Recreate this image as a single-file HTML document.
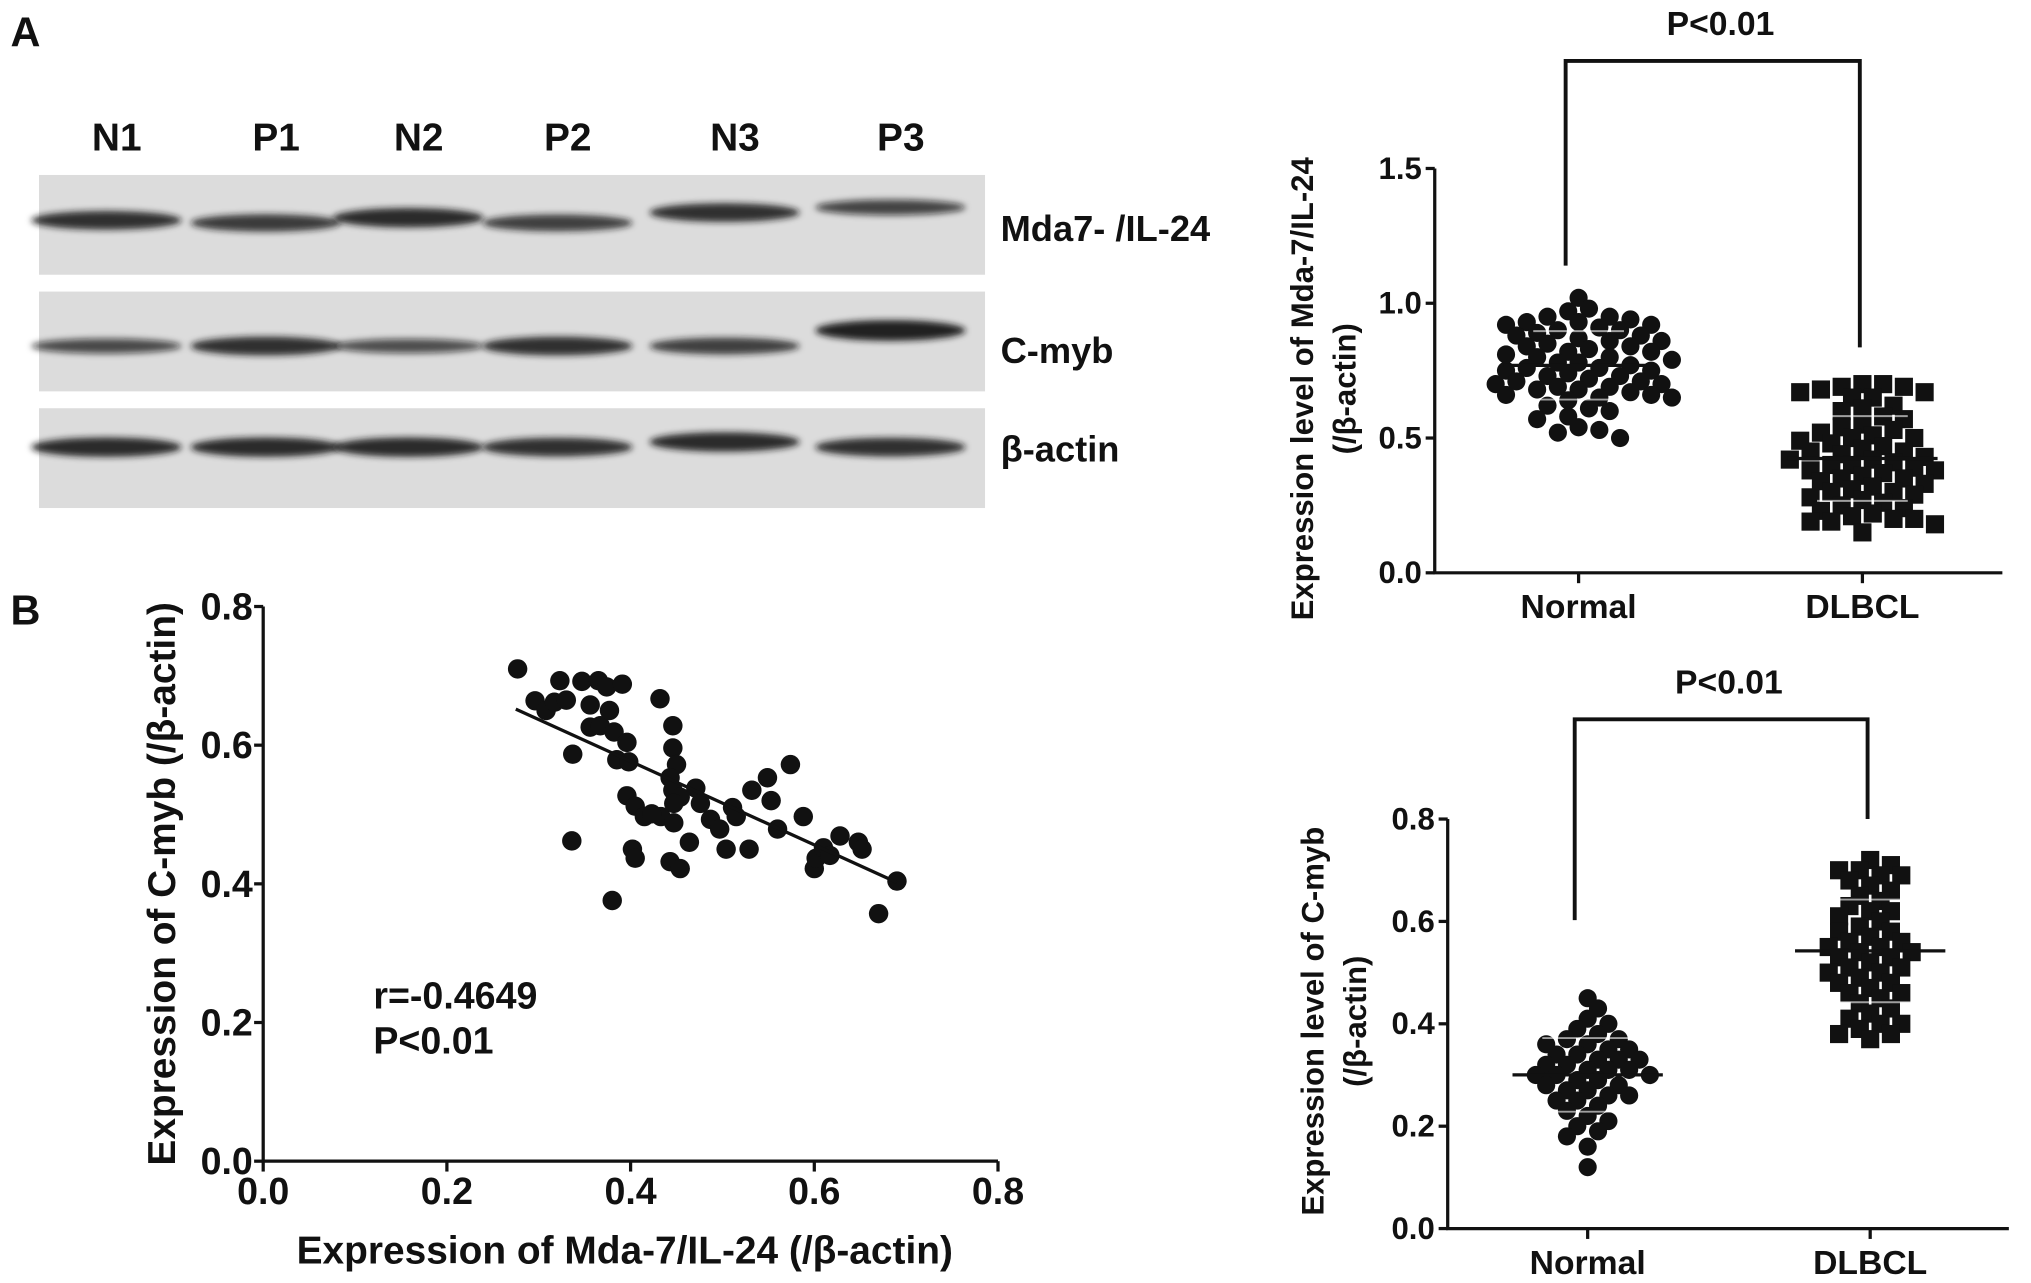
<!DOCTYPE html>
<html><head><meta charset="utf-8"><style>
html,body{margin:0;padding:0;background:#fff}
svg{display:block}
text{font-family:"Liberation Sans",sans-serif;font-weight:bold;fill:#111}
</style></head><body>
<svg id="fig" width="2031" height="1283" viewBox="0 0 1567 990" xmlns="http://www.w3.org/2000/svg">
<defs>
<filter id="blur" x="-20%" y="-100%" width="140%" height="300%"><feGaussianBlur stdDeviation="2.5"/></filter>
</defs>
<text x="8" y="36" font-size="32">A</text>
<text x="8" y="482" font-size="32">B</text>
<g id="blot"></g>
<g id="scatter"></g>
<g id="dotTop"></g>
<g id="dotBot"></g>
</svg>
<script>
// ---------- data ----------
const laneLabels = ["N1","P1","N2","P2","N3","P3"];
const laneX = [90,213,323,438,567,695];
const mdaBand = [0.85,0.75,0.9,0.7,0.85,0.6];
const mybBand = [0.55,0.85,0.5,0.85,0.7,1.0];
const actBand = [0.9,0.9,0.9,0.85,0.9,0.85];

const scatterX = [0.277,0.296,0.308,0.317,0.323,0.330,0.347,0.356,0.365,0.374,0.391,0.356,0.367,0.377,0.382,0.396,0.337,0.385,0.336,0.396,0.398,0.405,0.432,0.446,0.446,0.450,0.443,0.446,0.433,0.454,0.447,0.415,0.423,0.447,0.471,0.464,0.487,0.511,0.504,0.515,0.529,0.532,0.549,0.553,0.574,0.588,0.600,0.602,0.610,0.628,0.648,0.652,0.617,0.670,0.690,0.402,0.405,0.443,0.380,0.476,0.497,0.560,0.454];
const scatterY = [0.710,0.664,0.650,0.662,0.693,0.665,0.692,0.658,0.693,0.684,0.688,0.626,0.628,0.650,0.619,0.604,0.587,0.579,0.462,0.527,0.576,0.512,0.667,0.628,0.596,0.572,0.553,0.535,0.497,0.525,0.516,0.497,0.501,0.488,0.538,0.460,0.493,0.510,0.450,0.497,0.450,0.535,0.553,0.520,0.572,0.497,0.422,0.437,0.452,0.469,0.460,0.450,0.441,0.357,0.404,0.450,0.437,0.432,0.376,0.516,0.479,0.479,0.422];
const fitLine = [[0.275,0.652],[0.69,0.402]];
const scatterTicks = ["0.0","0.2","0.4","0.6","0.8"];

const groups = ["Normal","DLBCL"];
const mdaNormal = [1.02,0.98,0.97,0.95,0.95,0.94,0.93,0.93,0.92,0.92,0.91,0.90,0.90,0.89,0.88,0.88,0.87,0.86,0.86,0.85,0.84,0.84,0.83,0.82,0.82,0.81,0.80,0.80,0.79,0.78,0.78,0.77,0.76,0.76,0.75,0.75,0.74,0.73,0.73,0.72,0.71,0.71,0.70,0.70,0.69,0.69,0.68,0.68,0.67,0.66,0.66,0.65,0.65,0.64,0.62,0.61,0.60,0.58,0.57,0.54,0.53,0.52,0.50];
const mdaDLBCL = [0.70,0.70,0.69,0.69,0.68,0.67,0.67,0.65,0.65,0.62,0.61,0.60,0.58,0.57,0.55,0.54,0.53,0.52,0.51,0.50,0.50,0.49,0.48,0.47,0.46,0.45,0.45,0.44,0.43,0.42,0.42,0.41,0.40,0.40,0.39,0.38,0.38,0.37,0.36,0.35,0.35,0.34,0.33,0.32,0.31,0.30,0.30,0.29,0.28,0.27,0.26,0.25,0.24,0.23,0.22,0.21,0.20,0.20,0.19,0.19,0.18,0.15];
const mybNormal = [0.45,0.43,0.41,0.40,0.39,0.38,0.37,0.37,0.36,0.36,0.35,0.35,0.34,0.34,0.33,0.33,0.33,0.32,0.32,0.31,0.31,0.31,0.30,0.30,0.30,0.29,0.29,0.28,0.28,0.27,0.27,0.26,0.26,0.25,0.25,0.24,0.23,0.22,0.21,0.20,0.19,0.18,0.16,0.12];
const mybDLBCL = [0.72,0.71,0.70,0.70,0.69,0.69,0.68,0.67,0.66,0.65,0.64,0.63,0.62,0.62,0.61,0.60,0.59,0.58,0.58,0.57,0.56,0.56,0.55,0.55,0.54,0.54,0.53,0.53,0.52,0.51,0.51,0.50,0.50,0.49,0.48,0.48,0.47,0.46,0.46,0.45,0.44,0.43,0.42,0.41,0.40,0.40,0.39,0.38,0.38,0.37];
const mdaTicks = ["0.0","0.5","1.0","1.5"];
const mybTicks = ["0.0","0.2","0.4","0.6","0.8"];

// ---------- helpers ----------
const NS="http://www.w3.org/2000/svg";
function mk(parent,tag,attrs,txt){const e=document.createElementNS(NS,tag);for(const k in attrs)e.setAttribute(k,attrs[k]);if(txt!==undefined)e.textContent=txt;parent.appendChild(e);return e;}

// ---------- blot ----------
const blot=document.getElementById('blot');
laneLabels.forEach((l,i)=>{
  const t=mk(blot,'text',{x:laneX[i],y:116,'font-size':30,'text-anchor':'middle'},l);
  
  
});
const strips=[{y:135,h:77,bc:170,bands:mdaBand,label:"Mda7- /IL-24",ly:186,dy:[0,2,-2,2,-6,-10]},
              {y:225,h:77,bc:267,bands:mybBand,label:"C-myb",ly:280,dy:[0,0,0,0,0,-12]},
              {y:315,h:77,bc:345,bands:actBand,label:"β-actin",ly:356,dy:[0,0,0,0,-4,0]}];
strips.forEach((s,si)=>{
  const r=mk(blot,'rect',{x:30,y:s.y,width:730,height:s.h,fill:'#dcdcdc'});
  
  
  s.bands.forEach((b,i)=>{
    const e=mk(blot,'ellipse',{cx:laneX[i]-8,cy:s.bc+s.dy[i],rx:58,ry:3+b*5,fill:'#151515','fill-opacity':0.45+b*0.5,filter:'url(#blur)'});
    
    
  });
  const t=mk(blot,'text',{x:772,y:s.ly,'font-size':28},s.label);
  
  
});

// ---------- scatter ----------
const sc=document.getElementById('scatter');
const sx0=203,sx1=770,sy0=896,sy1=468;
const sX=v=>sx0+(v/0.8)*(sx1-sx0), sY=v=>sy0-(v/0.8)*(sy0-sy1);
mk(sc,'path',{d:`M${sx0} ${sy1}V${sy0}H${sx1}`,stroke:'#111','stroke-width':2.5,fill:'none'});
scatterTicks.forEach(t=>{
  const v=parseFloat(t);
  mk(sc,'line',{x1:sx0-7,x2:sx0,y1:sY(v),y2:sY(v),stroke:'#111','stroke-width':2.5});
  mk(sc,'line',{x1:sX(v),x2:sX(v),y1:sy0,y2:sy0+8,stroke:'#111','stroke-width':2.5});
  const a=mk(sc,'text',{x:sx0-8,y:sY(v)+10,'font-size':29,'text-anchor':'end'},t);
  
  
  const b=mk(sc,'text',{x:sX(v),y:sy0+33,'font-size':29,'text-anchor':'middle'},t);
  
  
});
scatterX.forEach((x,i)=>{
  const c=mk(sc,'circle',{cx:sX(x),cy:sY(scatterY[i]),r:7.5,fill:'#111'});
  
  
});
const fl=mk(sc,'line',{x1:sX(fitLine[0][0]),y1:sY(fitLine[0][1]),x2:sX(fitLine[1][0]),y2:sY(fitLine[1][1]),stroke:'#111','stroke-width':2.5});


let t1=mk(sc,'text',{x:482,y:975,'font-size':30,'text-anchor':'middle'},"Expression of Mda-7/IL-24 (/β-actin)");


let t2=mk(sc,'text',{x:0,y:0,'font-size':30,'text-anchor':'middle',transform:'translate(135,682) rotate(-90)'},"Expression of C-myb (/β-actin)");


let t3=mk(sc,'text',{x:288,y:778,'font-size':29},"r=-0.4649");


let t4=mk(sc,'text',{x:288,y:813,'font-size':29},"P<0.01");



// ---------- dot plots ----------
function dotPlot(g,cfg){
  const Y=v=>cfg.y0-(v/cfg.max)*(cfg.y0-cfg.y1);
  mk(g,'path',{d:`M${cfg.ax} ${cfg.y1}V${cfg.y0}H${cfg.xend}`,stroke:'#111','stroke-width':2.5,fill:'none'});
  cfg.ticks.forEach(t=>{
    const v=parseFloat(t);
    mk(g,'line',{x1:cfg.ax-7,x2:cfg.ax,y1:Y(v),y2:Y(v),stroke:'#111','stroke-width':2.5});
    const a=mk(g,'text',{x:cfg.ax-10,y:Y(v)+8,'font-size':24,'text-anchor':'end'},t);
    
    
  });
  groups.forEach((gname,gi)=>{
    const cx=cfg.gx[gi];
    mk(g,'line',{x1:cx,x2:cx,y1:cfg.y0,y2:cfg.y0+8,stroke:'#111','stroke-width':2.5});
    const a=mk(g,'text',{x:cx,y:cfg.y0+35,'font-size':26,'text-anchor':'middle'},gname);
    
    
    const vals=cfg.data[gi].slice().sort((a,b)=>b-a);
    // simple beeswarm: place each point at nearest free horizontal slot
    const placed=[];
    vals.forEach(v=>{
      const py=Y(v);
      let k=0;
      for(let j=0;j<40;j++){
        const off=Math.ceil(j/2)*8*(j%2?1:-1);
        const ok=placed.every(p=>Math.hypot(p[0]-off,p[1]-py)>=11);
        if(ok){k=off;break;}
      }
      placed.push([k,py]);
      let m;
      if(gi===0) m=mk(g,'circle',{cx:cx+k,cy:py,r:7,fill:'#111'});
      else m=mk(g,'rect',{x:cx+k-7,y:py-7,width:14,height:14,fill:'#111'});
      
      
    });
    const d=cfg.data[gi];
    const mean=d.reduce((a,b)=>a+b,0)/d.length;
    const sd=Math.sqrt(d.reduce((a,b)=>a+(b-mean)*(b-mean),0)/d.length);
    const ml=mk(g,'line',{x1:cx-58,x2:cx+58,y1:Y(mean),y2:Y(mean),stroke:'#111','stroke-width':2.5});
    
    
    [mean-sd,mean+sd].forEach(s=>mk(g,'line',{x1:cx-35,x2:cx+35,y1:Y(s),y2:Y(s),stroke:'#fff','stroke-width':1.5,'stroke-opacity':0.6}));
  });
  const br=mk(g,'path',{d:`M${cfg.gx[0]-10} ${cfg.bl}V${cfg.bt}H${cfg.gx[1]-2}V${cfg.br}`,stroke:'#111','stroke-width':3,fill:'none'});
  
  
  const p=mk(g,'text',{x:(cfg.gx[0]+cfg.gx[1])/2,y:cfg.bt-20,'font-size':26,'text-anchor':'middle'},"P<0.01");
  
  
  const a1=mk(g,'text',{x:0,y:0,'font-size':24,'text-anchor':'middle',transform:`translate(${cfg.tx},${cfg.ty}) rotate(-90)`},cfg.title);
  
  
  const a2=mk(g,'text',{x:0,y:0,'font-size':24,'text-anchor':'middle',transform:`translate(${cfg.tx+33},${cfg.ty}) rotate(-90)`},"(/β-actin)");
  
  
}
dotPlot(document.getElementById('dotTop'),{ax:1107,xend:1545,y0:442,y1:130,max:1.5,ticks:mdaTicks,gx:[1218,1437],data:[mdaNormal,mdaDLBCL],bt:47,bl:205,br:268,title:"Expression level of Mda-7/IL-24",tx:1013,ty:300});
dotPlot(document.getElementById('dotBot'),{ax:1117,xend:1550,y0:948,y1:632,max:0.8,ticks:mybTicks,gx:[1225,1443],data:[mybNormal,mybDLBCL],bt:555,bl:710,br:632,title:"Expression level of C-myb",tx:1021,ty:788});
</script>
</body></html>
